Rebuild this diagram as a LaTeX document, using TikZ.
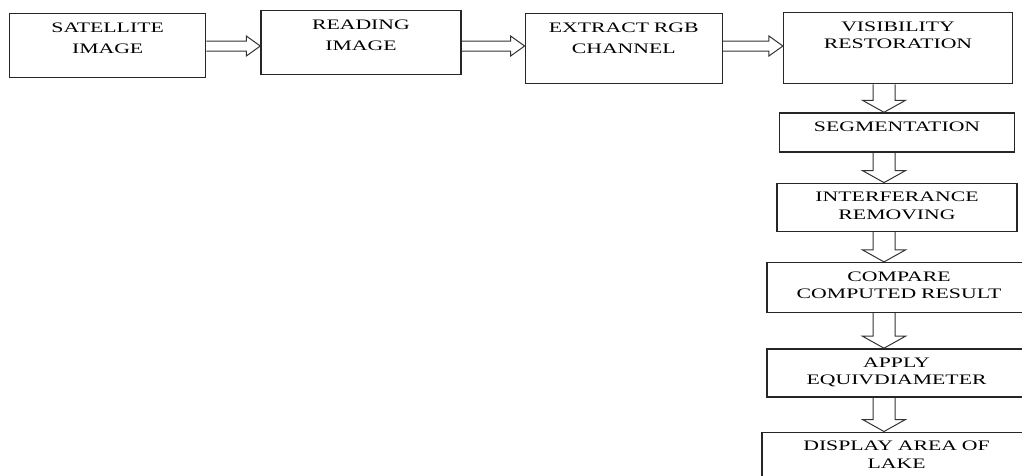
\documentclass[tikz,border=0pt]{standalone}
\usepackage{fontspec}
\setmainfont{Liberation Serif}[FakeStretch=1.5]
\usetikzlibrary{positioning, calc}

\tikzset{
  stage/.code 2 args={%
    \pgfmathsetmacro\stagewidth{#1-20}%
    \pgfmathsetmacro\stagedepth{#2-27}%
    \tikzset{rectangle, draw=black!85, line width=1.3pt,
      minimum width=#1pt, minimum height=#2pt,
      text width=\stagewidth pt, text height=10pt, text depth=\stagedepth pt,
      inner xsep=4pt, inner ysep=8.5pt, align=center,
      font=\fontsize{14.5}{17.5}\selectfont}},
  toprow/.style={font=\fontsize{14.5}{21}\selectfont},
  flow/.style={draw=black!80, line width=1pt, line join=miter},
}

% hollow block arrows between two stages
\newcommand{\rarrow}[2]{%
  \draw[flow] let \p1=(#1.east), \p2=(#2.west), \p3=(row) in
    (\x1,\y3+5pt) -- (\x2-14pt,\y3+5pt) -- (\x2-14pt,\y3+10pt) -- (\x2,\y3)
    -- (\x2-14pt,\y3-10pt) -- (\x2-14pt,\y3-5pt) -- (\x1,\y3-5pt);}
\newcommand{\darrow}[2]{%
  \draw[flow] let \p1=(#1.south), \p2=(#2.north), \p3=(spine) in
    (\x3-11pt,\y1) -- (\x3-11pt,\y2+12pt) -- (\x3-21.5pt,\y2+12pt) -- (\x3,\y2)
    -- (\x3+21.5pt,\y2+12pt) -- (\x3+11pt,\y2+12pt) -- (\x3+11pt,\y1);}

\begin{document}
\begin{tikzpicture}[x=1pt, y=-1pt]
    \useasboundingbox (0,0) rectangle (1022,475);
    \coordinate (row) at (0,46);
    \coordinate (spine) at (884,0);

    % top row
    \node[stage={196}{64}, toprow, anchor=north west] (sat) at (9,13) {SATELLITE\\IMAGE};
    \node[stage={200}{64}, toprow, right=54pt of sat.north east, anchor=north west, yshift=3pt] (read) {READING\\IMAGE};
    \node[stage={197}{70}, toprow, right=63pt of read.north east, anchor=north west, yshift=-3pt] (rgb) {EXTRACT RGB\\CHANNEL};
    \node[stage={229}{71}, right=60pt of rgb.north east, anchor=north west, yshift=1pt] (vis) {VISIBILITY\\RESTORATION};

    % column
    \node[stage={235}{39}, below=28pt of vis, xshift=-1pt] (seg) {SEGMENTATION};
    \node[stage={240}{48}, below=30pt of seg] (intf) {INTERFERANCE\\REMOVING};
    \node[stage={264}{50}, below=30pt of intf, xshift=2pt] (comp) {COMPARE\\COMPUTED RESULT};
    \node[stage={259}{48}, below=35pt of comp, xshift=-2.5pt] (apply) {APPLY\\EQUIVDIAMETER};
    \node[stage={269}{57}, below=34pt of apply] (disp) {DISPLAY AREA OF\\LAKE};

    \rarrow{sat}{read}
    \rarrow{read}{rgb}
    \rarrow{rgb}{vis}
    \darrow{vis}{seg}
    \darrow{seg}{intf}
    \darrow{intf}{comp}
    \darrow{comp}{apply}
    \darrow{apply}{disp}
\end{tikzpicture}
\end{document}
